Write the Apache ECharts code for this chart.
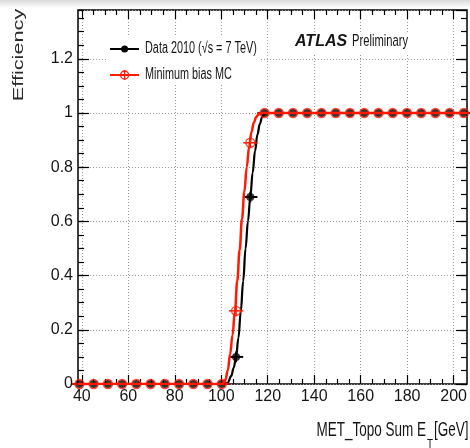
<!DOCTYPE html>
<html>
<head>
<meta charset="utf-8">
<script src="https://cdn.jsdelivr.net/npm/echarts@6/dist/echarts.min.js"></script>
<style>
  html, body { margin: 0; padding: 0; background: #fff; }
  #chart { width: 470px; height: 448px; }
</style>
</head>
<body>
<div id="chart"></div>
<script>
// Trigger efficiency vs MET_Topo Sum E_T, 6 GeV bins
const binCenters = [39, 45, 51, 57, 63, 69, 75, 81, 87, 93, 99, 105, 111, 117, 123, 129, 135, 141, 147, 153, 159, 165, 171, 177, 183, 189, 195, 201];
const binHalfWidth = 3;
const dataEff = [0, 0, 0, 0, 0, 0, 0, 0, 0, 0, 0, 0.10, 0.69, 1, 1, 1, 1, 1, 1, 1, 1, 1, 1, 1, 1, 1, 1, 1];
const dataErr = [0, 0, 0, 0, 0, 0, 0, 0, 0, 0, 0.003, 0.02, 0.02, 0.003, 0, 0, 0, 0, 0, 0, 0, 0, 0, 0, 0, 0, 0, 0];
const mcEff = [0, 0, 0, 0, 0, 0, 0, 0, 0, 0, 0, 0.27, 0.89, 1, 1, 1, 1, 1, 1, 1, 1, 1, 1, 1, 1, 1, 1, 1];
const mcErr = [0, 0, 0, 0, 0, 0, 0, 0, 0, 0, 0.003, 0.02, 0.02, 0.003, 0, 0, 0, 0, 0, 0, 0, 0, 0, 0, 0, 0, 0, 0];

// Fitted turn-on curves
const dataFitX = [38.4, 100, 101.5, 103, 104, 105, 106, 107, 108, 109, 110, 111, 112, 113, 114, 115, 116, 117, 118, 202.3];
const dataFitY = [0, 0, 0.005, 0.03, 0.06, 0.10, 0.17, 0.27, 0.38, 0.50, 0.60, 0.69, 0.78, 0.86, 0.92, 0.96, 0.985, 0.997, 1, 1];
const mcFitX = [38.4, 99, 100.5, 101.5, 102.5, 103.5, 104.5, 105.5, 106.5, 107.5, 108.5, 109.5, 110.5, 111.5, 112.5, 113.5, 114.5, 116, 202.3];
const mcFitY = [0, 0, 0.015, 0.05, 0.11, 0.18, 0.267, 0.38, 0.494, 0.61, 0.71, 0.80, 0.875, 0.93, 0.965, 0.985, 0.995, 1, 1];

const xTickMin = 40, xTickMax = 200;
const yTickMin = 0, yTickMax = 1.38;

const sans = "'Liberation Sans', Arial, Helvetica, sans-serif";
const textColor = '#151515';

function errorBars(color, width) {
  return function (params, api) {
    const x = api.value(0), y = api.value(1), e = api.value(2);
    const l = api.coord([x - binHalfWidth, y]);
    const r = api.coord([x + binHalfWidth, y]);
    const t = api.coord([x, y + e]);
    const b = api.coord([x, y - e]);
    return {
      type: 'group',
      children: [
        { type: 'line', shape: { x1: l[0], y1: l[1], x2: r[0], y2: r[1] }, style: { stroke: color, lineWidth: width } },
        { type: 'line', shape: { x1: t[0], y1: t[1], x2: b[0], y2: b[1] }, style: { stroke: color, lineWidth: width } }
      ]
    };
  };
}

const zip = (xs, ys) => xs.map((x, i) => [x, ys[i]]);
const zip3 = (xs, ys, es) => xs.map((x, i) => [x, ys[i], es[i]]);

const tickLine = { color: '#000', width: 1.2 };

const option = {
  animation: false,
  backgroundColor: '#fff',
  grid: [
    { left: 78, right: 3, top: 10, bottom: 64, show: true, borderColor: '#000', borderWidth: 1.5, backgroundColor: 'transparent' },
    { left: 81.8, right: 8.5, top: 10, bottom: 64 }
  ],
  xAxis: [
    { gridIndex: 0, type: 'value', min: 38.4, max: 202.3, show: false },
    {
      gridIndex: 1, type: 'value', min: xTickMin, max: xTickMax, interval: 20, position: 'bottom',
      axisLine: { show: false },
      axisTick: { inside: true, length: 9, lineStyle: tickLine },
      minorTick: { show: true, splitNumber: 4, length: 5, lineStyle: tickLine },
      axisLabel: { margin: 5, fontSize: 16, fontFamily: sans, color: textColor },
      splitLine: { show: true, lineStyle: { color: '#9a9a9a', width: 1, type: [1, 2] } }
    },
    {
      gridIndex: 1, type: 'value', min: xTickMin, max: xTickMax, interval: 20, position: 'top',
      axisLine: { show: false },
      axisTick: { inside: true, length: 9, lineStyle: tickLine },
      minorTick: { show: true, splitNumber: 4, length: 5, lineStyle: tickLine },
      axisLabel: { show: false },
      splitLine: { show: false }
    }
  ],
  yAxis: [
    {
      gridIndex: 0, type: 'value', min: yTickMin, max: yTickMax, interval: 0.2, position: 'left',
      axisLine: { show: false },
      axisTick: { inside: true, length: 11, lineStyle: tickLine },
      axisLabel: { margin: 5, fontSize: 16, fontFamily: sans, color: textColor, showMaxLabel: false },
      splitLine: { show: true, lineStyle: { color: '#9a9a9a', width: 1, type: [1, 2] } }
    },
    {
      gridIndex: 0, type: 'value', min: yTickMin, max: yTickMax, interval: 0.05, position: 'left',
      axisLine: { show: false },
      axisTick: { inside: true, length: 6, lineStyle: tickLine },
      axisLabel: { show: false }, splitLine: { show: false }
    },
    {
      gridIndex: 0, type: 'value', min: yTickMin, max: yTickMax, interval: 0.2, position: 'right',
      axisLine: { show: false },
      axisTick: { inside: true, length: 11, lineStyle: tickLine },
      axisLabel: { show: false }, splitLine: { show: false }
    },
    {
      gridIndex: 0, type: 'value', min: yTickMin, max: yTickMax, interval: 0.05, position: 'right',
      axisLine: { show: false },
      axisTick: { inside: true, length: 6, lineStyle: tickLine },
      axisLabel: { show: false }, splitLine: { show: false }
    },
    { gridIndex: 1, type: 'value', min: yTickMin, max: yTickMax, show: false }
  ],
  series: [
    {
      type: 'custom', name: 'data-err', xAxisIndex: 0, yAxisIndex: 0, z: 3,
      renderItem: errorBars('#000', 2),
      data: zip3(binCenters, dataEff, dataErr)
    },
    {
      type: 'scatter', name: 'Data 2010', xAxisIndex: 0, yAxisIndex: 0, z: 4,
      symbol: 'circle', symbolSize: 8,
      itemStyle: { color: '#000' },
      data: zip(binCenters, dataEff)
    },
    {
      type: 'line', name: 'data-fit', xAxisIndex: 0, yAxisIndex: 0, z: 5,
      showSymbol: false, smooth: 0.4, smoothMonotone: 'x',
      lineStyle: { color: '#000', width: 2.2 },
      data: zip(dataFitX, dataFitY)
    },
    {
      type: 'line', name: 'mc-fit', xAxisIndex: 0, yAxisIndex: 0, z: 6,
      showSymbol: false, smooth: 0.4, smoothMonotone: 'x',
      lineStyle: { color: '#ff1a00', width: 2.5 },
      data: zip(mcFitX, mcFitY)
    },
    {
      type: 'custom', name: 'mc-err', xAxisIndex: 0, yAxisIndex: 0, z: 7,
      renderItem: errorBars('#ff1a00', 1.5),
      data: zip3(binCenters, mcEff, mcErr)
    },
    {
      type: 'scatter', name: 'Minimum bias MC', xAxisIndex: 0, yAxisIndex: 0, z: 8,
      symbol: 'circle', symbolSize: 9,
      itemStyle: { color: 'rgba(0,0,0,0)', borderColor: '#ff1a00', borderWidth: 1.4 },
      data: zip(binCenters, mcEff)
    }
  ],
  graphic: [
    // soft shadow along the top edge
    {
      type: 'rect', z: 100, shape: { x: 0, y: 0, width: 470, height: 8 },
      style: { fill: { type: 'linear', x: 0, y: 0, x2: 0, y2: 1, colorStops: [{ offset: 0, color: '#d9d9d9' }, { offset: 1, color: '#ffffff' }] } }
    },
    // legend
    { type: 'rect', z: 50, shape: { x: 106, y: 35, width: 154, height: 50 }, style: { fill: '#fff' } },
    { type: 'line', z: 51, shape: { x1: 110, y1: 49, x2: 139, y2: 49 }, style: { stroke: '#000', lineWidth: 2 } },
    { type: 'circle', z: 52, shape: { cx: 124.6, cy: 49, r: 3.5 }, style: { fill: '#000' } },
    {
      type: 'text', z: 52, x: 145, y: 49, scaleX: 0.835, scaleY: 1.2,
      style: { text: 'Data 2010 (\u221As = 7 TeV)', font: '13px ' + sans, fill: textColor, textAlign: 'left', textVerticalAlign: 'middle' }
    },
    { type: 'line', z: 51, shape: { x1: 110, y1: 75, x2: 139, y2: 75 }, style: { stroke: '#ff1a00', lineWidth: 2 } },
    { type: 'line', z: 51, shape: { x1: 124.6, y1: 70, x2: 124.6, y2: 80 }, style: { stroke: '#ff1a00', lineWidth: 1.4 } },
    { type: 'circle', z: 52, shape: { cx: 124.6, cy: 75, r: 4 }, style: { fill: 'rgba(0,0,0,0)', stroke: '#ff1a00', lineWidth: 1.3 } },
    {
      type: 'text', z: 52, x: 145, y: 75, scaleX: 0.835, scaleY: 1.2,
      style: { text: 'Minimum bias MC', font: '13px ' + sans, fill: textColor, textAlign: 'left', textVerticalAlign: 'middle' }
    },
    // experiment label
    { type: 'rect', z: 50, shape: { x: 292, y: 32, width: 120, height: 22 }, style: { fill: '#fff' } },
    {
      type: 'text', z: 52, x: 295, y: 42,
      style: { text: 'ATLAS', font: 'italic bold 16px ' + sans, fill: textColor, textAlign: 'left', textVerticalAlign: 'middle' }
    },
    {
      type: 'text', z: 52, x: 352, y: 42, scaleX: 0.8, scaleY: 1.15,
      style: { text: 'Preliminary', font: '14px ' + sans, fill: textColor, textAlign: 'left', textVerticalAlign: 'middle' }
    },
    // axis titles
    {
      type: 'text', z: 52, x: 19, y: 55, rotation: Math.PI / 2, scaleX: 1.55,
      style: { text: 'Efficiency', font: '14px ' + sans, fill: '#2a2a2a', textAlign: 'center', textVerticalAlign: 'middle' }
    },
    {
      type: 'text', z: 52, x: 426, y: 430, scaleX: 0.9, scaleY: 1.4,
      style: { text: 'MET_Topo Sum E', font: '15px ' + sans, fill: textColor, textAlign: 'right', textVerticalAlign: 'middle' }
    },
    {
      type: 'text', z: 52, x: 427, y: 444, scaleX: 0.9, scaleY: 1.2,
      style: { text: 'T', font: '11px ' + sans, fill: textColor, textAlign: 'left', textVerticalAlign: 'middle' }
    },
    {
      type: 'text', z: 52, x: 434, y: 430, scaleX: 0.9, scaleY: 1.4,
      style: { text: '[GeV]', font: '15px ' + sans, fill: textColor, textAlign: 'left', textVerticalAlign: 'middle' }
    }
  ]
};

const chart = echarts.init(document.getElementById('chart'), null, { renderer: 'canvas' });
chart.setOption(option);
</script>
</body>
</html>
